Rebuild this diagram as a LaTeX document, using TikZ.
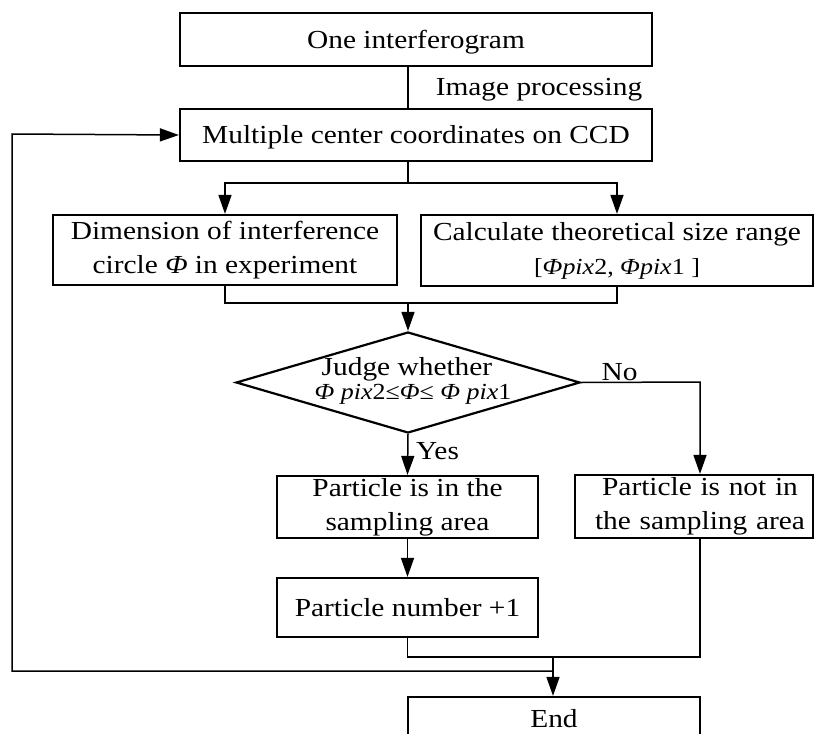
\documentclass[tikz,border=0pt]{standalone}
\usepackage{fontspec}
\setmainfont{Liberation Serif}[FakeStretch=1.13]
\usetikzlibrary{arrows.meta,shapes.geometric,calc}
\begin{document}
\begin{tikzpicture}[x=1pt,y=-1pt,
  every node/.style={font=\fontsize{26}{34}\selectfont, text=black},
  box/.style={draw, line width=2.2pt, inner sep=0pt, align=center},
  onebox/.style={box, text height=17pt, text depth=0pt},
  conn/.style={line width=1.5pt},
  arr/.style={conn, -{Triangle[length=19pt,width=13pt]}},
  lbl/.style={inner sep=0pt, anchor=base}]
\useasboundingbox (0,0) rectangle (815,734);
\clip (0,0) rectangle (815,734);
% boxes
\node[onebox, minimum width=472pt, minimum height=53pt] (b1) at (416,39.5) {One interferogram};
\node[onebox, minimum width=472pt, minimum height=52pt] (b2) at (416,135) {Multiple center coordinates on CCD};
\node[box, minimum width=344pt, minimum height=70pt] (b3) at (225,250) {Dimension of interference\\circle \textit{Φ} in experiment};
\node[box, minimum width=392pt, minimum height=71pt] (b4) at (617,250.5) {Calculate theoretical size range\\{\fontsize{23}{34}\selectfont{[}\textit{Φpix}2, \textit{Φpix}1 {]}}};
\node[draw, diamond, line width=2.2pt, minimum width=344pt, minimum height=101pt, inner sep=0pt] (dm) at (408,382.5) {};
\node[lbl] (dm1) at (407,375) {Judge whether};
\node[lbl, font=\fontsize{23}{26}\selectfont] (dm2) at (413,399) {\textit{Φ pix}2≤\textit{Φ}≤ \textit{Φ pix}1};
\node[box, minimum width=261pt, minimum height=62pt] (b5) at (407.5,507) {Particle is in the\\sampling area};
\node[box, minimum width=238pt, minimum height=63pt, text width=238pt] (b6) at (694,506.5) {\hspace*{12pt}Particle is not in\\\hspace*{12pt}the sampling area};
\node[onebox, minimum width=261pt, minimum height=59pt] (b7) at (407.5,607.5) {Particle number +1};
\node[onebox, minimum width=292pt, minimum height=44pt] (b8) at (554,719) {End};
% labels
\node[lbl] (lip) at (539,95) {Image processing};
\node[lbl] (lno) at (619.5,380) {No};
\node[lbl, anchor=base west] (lyes) at (416,459) {Yes};
% helper coordinates
\coordinate (split) at (408,183);
\coordinate (merge) at (408,303);
\coordinate (nocol) at (700,382);
\coordinate (join) at (553,657);
\coordinate (fb) at (553,671);
\coordinate (lft) at (12,134);
% connectors
\draw[conn] (b1.south -| dm.north) -- (b2.north -| dm.north);
\draw[conn] (b2.south -| split) -- (split);
\draw[arr] (split) -| (b3.north);
\draw[arr] (split) -| (b4.north);
\draw[conn] (b3.south) |- (merge);
\draw[conn] (b4.south) |- (merge);
\draw[arr] (merge) -- (dm.north);
\draw[arr] (dm.east) -- (nocol) -- (nocol |- b6.north);
\draw[arr] (dm.south) -- (b5.north);
\draw[arr] (b5.south) -- (b7.north);
\draw[conn] (b7.south) |- (join);
\draw[conn] (nocol |- b6.south) |- (join);
\draw[arr] (join) -- (b8.north -| join);
\draw[arr] (fb) -| (lft) -- (b2.west);
\end{tikzpicture}
\end{document}
